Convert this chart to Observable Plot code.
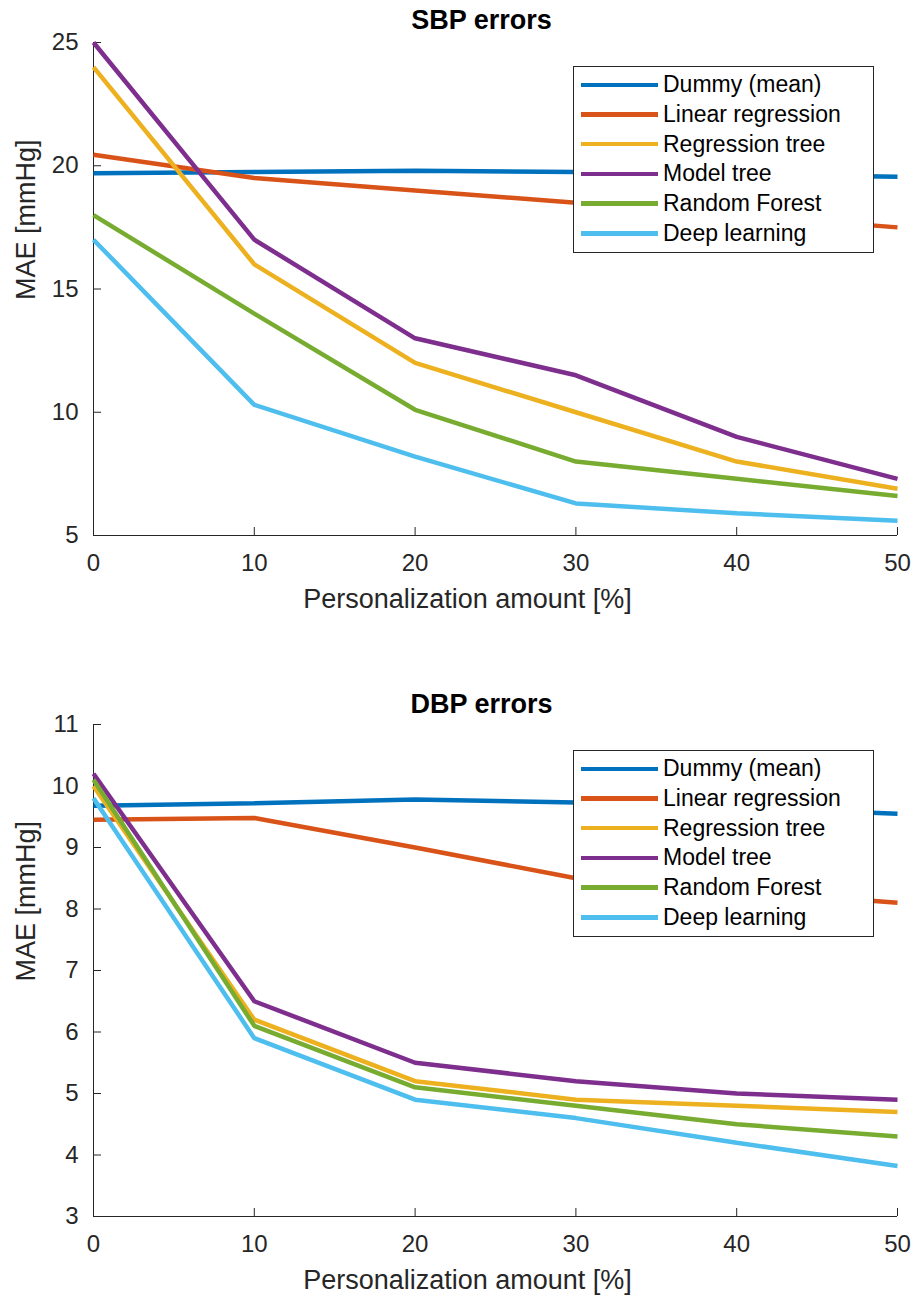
<!DOCTYPE html>
<html>
<head>
<meta charset="utf-8">
<script src="https://cdn.jsdelivr.net/npm/d3@7"></script>
<script src="https://cdn.jsdelivr.net/npm/@observablehq/plot@0.6"></script>
<style>
  html, body { margin: 0; padding: 0; background: #fff; }
  #wrap { position: relative; width: 914px; height: 1297px; font-family: "Liberation Sans", Arial, Helvetica, sans-serif; }
  #wrap svg { display: block; }
  .legend { position: absolute; box-sizing: border-box; background: #fff; border: 1px solid #262626; padding-top: 3px; }
  .legend .row { height: 29.7px; display: flex; align-items: center; font-size: 23px; color: #000; white-space: nowrap; }
  .legend .sw { width: 77px; height: 4.5px; margin-left: 7px; margin-right: 5px; }
</style>
</head>
<body>
<div id="wrap"></div>
<script>
// ---------- data ----------
const xValues = [0, 10, 20, 30, 40, 50];
const seriesNames = ["Dummy (mean)", "Linear regression", "Regression tree", "Model tree", "Random Forest", "Deep learning"];
const seriesColors = ["#0072BD", "#D95319", "#EDB120", "#7E2F8E", "#77AC30", "#4DBEEE"];

// SBP errors
const sbpDummy  = [19.70, 19.75, 19.80, 19.75, 19.65, 19.55];
const sbpLinear = [20.45, 19.50, 19.00, 18.50, 18.00, 17.50];
const sbpRegTree = [24.0, 16.0, 12.0, 10.0, 8.0, 6.9];
const sbpModelTree = [25.0, 17.0, 13.0, 11.5, 9.0, 7.3];
const sbpForest = [18.0, 14.0, 10.1, 8.0, 7.3, 6.6];
const sbpDeep = [17.0, 10.3, 8.2, 6.3, 5.9, 5.6];

// DBP errors
const dbpDummy  = [9.68, 9.72, 9.78, 9.73, 9.65, 9.55];
const dbpLinear = [9.45, 9.48, 9.00, 8.50, 8.30, 8.10];
const dbpRegTree = [10.0, 6.2, 5.2, 4.9, 4.8, 4.7];
const dbpModelTree = [10.2, 6.5, 5.5, 5.2, 5.0, 4.9];
const dbpForest = [10.1, 6.1, 5.1, 4.8, 4.5, 4.3];
const dbpDeep = [9.8, 5.9, 4.9, 4.6, 4.2, 3.82];

const xTicks = [0, 10, 20, 30, 40, 50];
const sbpTicks = [5, 10, 15, 20, 25];
const dbpTicks = [3, 4, 5, 6, 7, 8, 9, 10, 11];

const titles = ["SBP errors", "DBP errors"];
const xLabel = "Personalization amount [%]";
const yLabel = "MAE [mmHg]";

// ---------- build ----------
function toLong(arrays) {
  const out = [];
  arrays.forEach((arr, si) => arr.forEach((v, i) => out.push({series: seriesNames[si], x: xValues[i], y: v})));
  return out;
}

const panels = [
  {title: titles[0], data: toLong([sbpDummy, sbpLinear, sbpRegTree, sbpModelTree, sbpForest, sbpDeep]),
   yDomain: [5, 25], yTicks: sbpTicks, height: 650, marginTop: 42, marginBottom: 115, titleDy: -14,
   legendTop: 66},
  {title: titles[1], data: toLong([dbpDummy, dbpLinear, dbpRegTree, dbpModelTree, dbpForest, dbpDeep]),
   yDomain: [3, 11], yTicks: dbpTicks, height: 647, marginTop: 74, marginBottom: 81, titleDy: -12,
   legendTop: 750}
];

const wrap = document.getElementById("wrap");
const gray = "#262626";

panels.forEach((p) => {
  const chart = Plot.plot({
    width: 914,
    height: p.height,
    marginLeft: 93,
    marginRight: 17,
    marginTop: p.marginTop,
    marginBottom: p.marginBottom,
    style: {fontFamily: "'Liberation Sans', Arial, Helvetica, sans-serif", color: gray, background: "white", overflow: "visible"},
    x: {domain: [0, 50]},
    y: {domain: p.yDomain},
    color: {domain: seriesNames, range: seriesColors},
    marks: [
      Plot.ruleX([0], {stroke: gray, strokeWidth: 1}),
      Plot.ruleY([p.yDomain[0]], {stroke: gray, strokeWidth: 1}),
      Plot.axisX({ticks: xTicks, tickSize: -8, tickPadding: 26, fontSize: 24, label: null, stroke: gray, fill: gray}),
      Plot.axisY({ticks: p.yTicks, tickSize: -8, tickPadding: 23, fontSize: 24, label: null, stroke: gray, fill: gray}),
      Plot.line(p.data, {x: "x", y: "y", z: "series", stroke: "series", strokeWidth: 4.5, strokeLinejoin: "miter", strokeLinecap: "butt"}),
      Plot.text([p.title], {frameAnchor: "top", text: d => d, dx: -14, dy: p.titleDy, lineAnchor: "bottom", fontSize: 27, fontWeight: "bold", fill: "#000"}),
      Plot.text([xLabel], {frameAnchor: "bottom", text: d => d, dx: -28, dy: 72, lineAnchor: "bottom", fontSize: 27, fill: gray}),
      Plot.text([yLabel], {frameAnchor: "left", text: d => d, rotate: -90, dx: -59, dy: 11, lineAnchor: "bottom", fontSize: 27, fill: gray})
    ]
  });
  wrap.appendChild(chart);

  const lg = document.createElement("div");
  lg.className = "legend";
  lg.style.left = "573px";
  lg.style.top = p.legendTop + "px";
  lg.style.width = "301px";
  lg.style.height = "187px";
  seriesNames.forEach((name, i) => {
    const row = document.createElement("div");
    row.className = "row";
    const sw = document.createElement("div");
    sw.className = "sw";
    sw.style.background = seriesColors[i];
    const label = document.createElement("span");
    label.textContent = name;
    row.appendChild(sw);
    row.appendChild(label);
    lg.appendChild(row);
  });
  wrap.appendChild(lg);
});
</script>
</body>
</html>
